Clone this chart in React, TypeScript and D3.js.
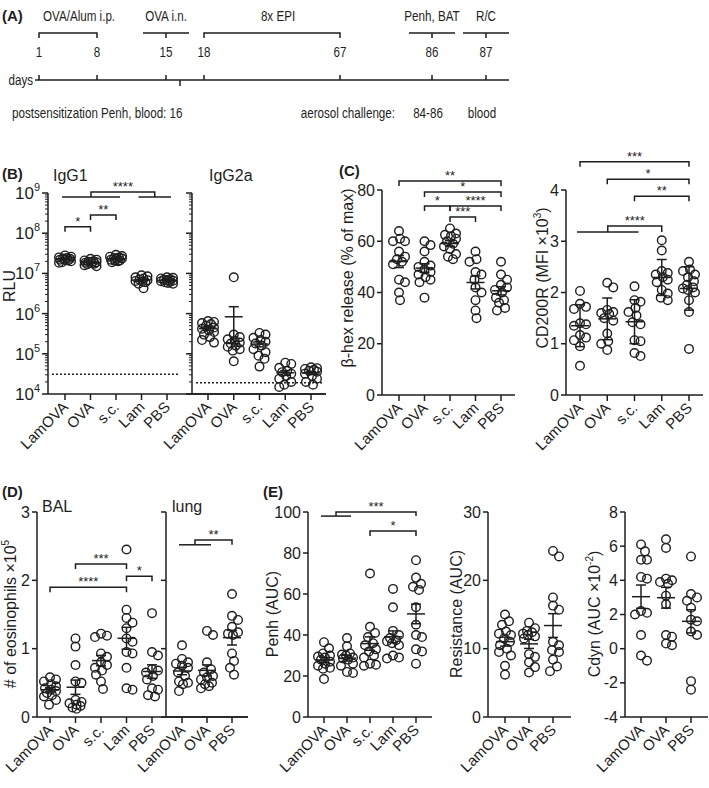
import React from "react";
import * as d3 from "d3";

const FONT = "'Liberation Sans', Arial, Helvetica, sans-serif";
const INK = "#1e1e1e";

// ---------- Panel A: timeline ----------
const timelineDays = [1, 8, 15, 16, 18, 67, 86, 87];
const dayTicks = [1, 8, 15, 18, 67, 86, 87];
const sampleDay = 16;
const phaseLabels = ["OVA/Alum i.p.", "OVA i.n.", "8x EPI", "Penh, BAT", "R/C"];
const phaseFrom = [1, 15, 18, 86, 87];
const phaseTo = [8, 15, 67, 86, 87];

// ---------- categories ----------
const cats5 = ["LamOVA", "OVA", "s.c.", "Lam", "PBS"];
const cats3 = ["LamOVA", "OVA", "PBS"];

// ---------- B: antibodies (RLU) ----------
const igg1 = [
  [2.8e7, 2.6e7, 2.5e7, 2.4e7, 2.35e7, 2.3e7, 2.2e7, 2.15e7, 2.1e7, 2.0e7, 1.9e7, 1.85e7],
  [2.3e7, 2.2e7, 2.1e7, 2.0e7, 1.95e7, 1.9e7, 1.85e7, 1.8e7, 1.75e7, 1.7e7, 1.6e7, 1.5e7],
  [2.9e7, 2.7e7, 2.6e7, 2.5e7, 2.4e7, 2.35e7, 2.3e7, 2.2e7, 2.1e7, 2.05e7, 2.0e7, 1.9e7],
  [9.0e6, 8.5e6, 8.0e6, 7.5e6, 7.0e6, 6.8e6, 6.5e6, 6.2e6, 6.0e6, 5.5e6, 4.3e6],
  [8.0e6, 7.8e6, 7.5e6, 7.2e6, 7.0e6, 6.8e6, 6.6e6, 6.4e6, 6.2e6, 6.0e6, 5.8e6, 5.5e6],
];
const igg2a = [
  [6.5e5, 6.2e5, 5.8e5, 5.5e5, 5.0e5, 4.5e5, 4.2e5, 3.8e5, 3.5e5, 3.0e5, 2.6e5, 2.2e5, 1.9e5],
  [8e6, 3.0e5, 2.6e5, 2.3e5, 2.1e5, 1.9e5, 1.8e5, 1.6e5, 1.5e5, 1.3e5, 1.2e5, 6.5e4],
  [3.3e5, 3.0e5, 2.5e5, 2.2e5, 2.0e5, 1.8e5, 1.6e5, 1.3e5, 1.1e5, 9e4, 7.5e4, 4.8e4],
  [6.0e4, 5.6e4, 4.5e4, 3.8e4, 3.5e4, 3.2e4, 2.8e4, 2.4e4, 2.0e4, 1.7e4, 1.5e4],
  [4.6e4, 4.4e4, 4.2e4, 4.0e4, 3.8e4, 3.6e4, 3.2e4, 2.8e4, 2.4e4, 2.0e4, 1.7e4],
];
const igg1Cutoff = 3.1e4;
const igg2aCutoff = 1.9e4;
const logTicks = [1e4, 1e5, 1e6, 1e7, 1e8, 1e9];

// ---------- C ----------
const betaHex = [
  [64, 61, 60, 60, 56, 54, 53, 52, 51, 45, 44, 40, 37],
  [60, 58.5, 56, 52, 50.5, 50, 49, 48, 47, 46, 45, 44, 38],
  [65, 63, 62.5, 62, 61, 60, 59, 58, 57, 55, 54, 53],
  [56, 53, 52, 48, 47, 45, 42, 40, 37, 33, 30],
  [52, 47, 45, 43, 42, 41, 40, 38, 37, 36, 34, 33],
];
const cd200r = [
  [2.03, 1.78, 1.72, 1.68, 1.4, 1.38, 1.35, 1.17, 1.12, 1.07, 0.95, 0.57],
  [2.19, 2.1, 1.66, 1.62, 1.6, 1.58, 1.5, 1.45, 1.2, 1.05, 1.0, 0.88],
  [2.12, 1.85, 1.82, 1.7, 1.62, 1.55, 1.42, 1.38, 1.07, 1.05, 0.82, 0.76],
  [3.02, 2.82, 2.42, 2.38, 2.35, 2.3, 2.25, 2.2, 2.05, 1.98, 1.9, 1.85],
  [2.6, 2.45, 2.42, 2.35, 2.3, 2.22, 2.15, 2.1, 2.08, 2.05, 2.0, 1.85, 1.62, 0.9],
];

// ---------- D ----------
const eosBAL = [
  [0.58, 0.55, 0.52, 0.48, 0.45, 0.42, 0.4, 0.38, 0.35, 0.32, 0.3, 0.25, 0.18],
  [1.15, 1.03, 0.76, 0.52, 0.5, 0.25, 0.22, 0.2, 0.18, 0.16, 0.14, 0.12],
  [1.22, 1.19, 1.17, 0.93, 0.88, 0.8, 0.76, 0.72, 0.68, 0.62, 0.52, 0.41],
  [2.45, 1.57, 1.45, 1.38, 1.3, 1.15, 1.1, 0.95, 0.93, 0.72, 0.42, 0.4],
  [1.52, 0.95, 0.9, 0.7, 0.68, 0.65, 0.6, 0.55, 0.42, 0.4, 0.32, 0.3],
];
const eosLung = [
  [1.05, 0.85, 0.8, 0.78, 0.75, 0.72, 0.65, 0.6, 0.52, 0.5, 0.48, 0.38],
  [1.26, 1.2, 0.8, 0.7, 0.65, 0.6, 0.58, 0.55, 0.5, 0.48, 0.45, 0.42],
  [1.8, 1.48, 1.42, 1.32, 1.24, 1.22, 1.2, 0.93, 0.82, 0.72, 0.62],
];

// ---------- E ----------
const penh = [
  [36.5, 33.5, 31, 30, 29.5, 29, 28, 27, 26, 25, 24, 23.5, 18.5],
  [38.5, 34.5, 31, 30.5, 30, 29, 28.5, 28, 26, 25, 22, 21.5],
  [70, 44, 41, 39, 36, 35, 33, 32, 30, 29, 26, 25.5, 25],
  [62.5, 53.5, 42, 40, 38.5, 37.5, 37, 36, 35, 30, 29, 28.5],
  [76.5, 68, 65, 63.5, 62, 53.5, 45, 40, 39, 33, 32, 26],
];
const resistance = [
  [15, 14, 13.5, 12.5, 12.2, 12, 11.5, 11, 10.5, 10, 9.5, 9, 7.5, 6.2],
  [13.8, 13, 12.6, 12.4, 12.2, 12, 11.8, 11.5, 9.2, 8.8, 8, 7.3, 6.5],
  [24.3, 23.5, 17.5, 16.3, 15.7, 11, 10.5, 9.8, 9.5, 8.4, 7.4, 6.7],
];
const cdyn = [
  [6.1, 5.7, 5.2, 5.2, 4.2, 4.1, 2.2, 2.1, 2.0, 0.8, -0.4, -0.7],
  [6.4, 5.9, 4.1, 4.0, 3.9, 3.8, 3.1, 2.6, 0.8, 0.7, 0.3, 0.2],
  [5.4, 3.2, 3.0, 2.8, 2.4, 1.7, 1.6, 1.0, 0.8, -1.9, -2.4],
];

// ---------- significance (levels in data units) ----------
type Sig = { a: number; b: number; level: number; label: string };
type GSig = { a: number[]; b: number[]; line: number; top: number; label: string };
const sigIgG1: Sig[] = [
  { a: 0, b: 1, level: 1.45e8, label: "*" },
  { a: 1, b: 2, level: 2.85e8, label: "**" },
];
const gsigIgG1: GSig[] = [{ a: [0, 1, 2], b: [3, 4], line: 7.9e8, top: 1.06e9, label: "****" }];
const sigBeta: Sig[] = [
  { a: 0, b: 4, level: 83.5, label: "**" },
  { a: 1, b: 4, level: 79.2, label: "*" },
  { a: 1, b: 2, level: 73.8, label: "*" },
  { a: 2, b: 4, level: 73.8, label: "****" },
  { a: 2, b: 3, level: 69.5, label: "***" },
];
const sigCD: Sig[] = [
  { a: 0, b: 4, level: 4.55, label: "***" },
  { a: 1, b: 4, level: 4.21, label: "*" },
  { a: 2, b: 4, level: 3.88, label: "**" },
];
const gsigCD: GSig[] = [{ a: [0, 1, 2], b: [3], line: 3.18, top: 3.3, label: "****" }];
const sigBAL: Sig[] = [
  { a: 1, b: 3, level: 2.24, label: "***" },
  { a: 3, b: 4, level: 2.06, label: "*" },
  { a: 0, b: 3, level: 1.9, label: "****" },
];
const gsigLung: GSig[] = [{ a: [0, 1], b: [2], line: 2.52, top: 2.59, label: "**" }];
const sigPenh: Sig[] = [{ a: 2, b: 4, level: 90.7, label: "*" }];
const gsigPenh: GSig[] = [{ a: [0, 1], b: [4], line: 98, top: 100, label: "***" }];

// ---------- helpers ----------
const R = 4.3;
const SW = 1.5;

function swarm(ys: number[], r: number, maxOff: number): number[] {
  const order = ys.map((_, i) => i).sort((a, b) => ys[a] - ys[b]);
  const placed: [number, number][] = [];
  const out: number[] = new Array(ys.length).fill(0);
  const cands: number[] = [0];
  for (let k = 1; k <= maxOff; k++) cands.push(k, -k);
  const need = 2 * r * 0.9;
  for (const i of order) {
    const yy = ys[i];
    let best = 0;
    let bestD = -1;
    for (const c of cands) {
      let md = Infinity;
      for (const [px, py] of placed) {
        const d = Math.hypot(px - c, py - yy);
        if (d < md) md = d;
      }
      if (md >= need) {
        best = c;
        break;
      }
      if (md > bestD) {
        bestD = md;
        best = c;
      }
    }
    placed.push([best, yy]);
    out[i] = best;
  }
  return out;
}

function Scatter({ groups, cats, x, y, err }: any) {
  return (
    <g>
      {groups.map((vals: number[], gi: number) => {
        const cx = x(cats[gi]);
        const ys = vals.map((v) => y(v));
        const offs = swarm(ys, R, 6);
        const m = d3.mean(vals)!;
        const sd = d3.deviation(vals)!;
        const e = err === "sd" ? sd : sd / Math.sqrt(vals.length);
        const yt = y(m + e);
        const yb = y(Math.max(m - e, 1e-9));
        const ym = y(m);
        return (
          <g key={gi}>
            {vals.map((v, i) => (
              <circle key={i} cx={cx + offs[i]} cy={ys[i]} r={R} fill="none" stroke={INK} strokeWidth={1.4} />
            ))}
            <line x1={cx} x2={cx} y1={yt} y2={yb} stroke={INK} strokeWidth={SW} />
            <line x1={cx - 5} x2={cx + 5} y1={yt} y2={yt} stroke={INK} strokeWidth={SW} />
            <line x1={cx - 5} x2={cx + 5} y1={yb} y2={yb} stroke={INK} strokeWidth={SW} />
            <line x1={cx - 9} x2={cx + 9} y1={ym} y2={ym} stroke={INK} strokeWidth={SW} />
          </g>
        );
      })}
    </g>
  );
}

function Brackets({ sigs, cats, x, y }: any) {
  return (
    <g>
      {sigs.map((s: Sig, i: number) => {
        const x1 = x(cats[s.a]);
        const x2 = x(cats[s.b]);
        const yy = y(s.level);
        return (
          <g key={i}>
            <path d={`M${x1},${yy + 5}V${yy}H${x2}V${yy + 5}`} fill="none" stroke={INK} strokeWidth={SW} />
            <text x={(x1 + x2) / 2} y={yy - 1} textAnchor="middle" fontSize={13}>
              {s.label}
            </text>
          </g>
        );
      })}
    </g>
  );
}

function GroupBrackets({ sigs, cats, x, y }: any) {
  return (
    <g>
      {sigs.map((s: GSig, i: number) => {
        const yl = y(s.line);
        const yt = y(s.top);
        const end = (g: number[]) => {
          if (g.length === 1) return { mid: x(cats[g[0]]), line: null as any };
          const l = x(cats[g[0]]) - 3;
          const r = x(cats[g[g.length - 1]]) + 4;
          return { mid: (l + r) / 2, line: [l, r] };
        };
        const A = end(s.a);
        const B = end(s.b);
        return (
          <g key={i}>
            {A.line && <line x1={A.line[0]} x2={A.line[1]} y1={yl} y2={yl} stroke={INK} strokeWidth={SW} />}
            {B.line && <line x1={B.line[0]} x2={B.line[1]} y1={yl} y2={yl} stroke={INK} strokeWidth={SW} />}
            <path d={`M${A.mid},${yl}V${yt}H${B.mid}V${yl}`} fill="none" stroke={INK} strokeWidth={SW} />
            <text x={(A.mid + B.mid) / 2} y={yt - 1} textAnchor="middle" fontSize={13}>
              {s.label}
            </text>
          </g>
        );
      })}
    </g>
  );
}

function YAxisLin({ x0, y, ticks, labels = true }: any) {
  const [d0, d1] = y.domain();
  return (
    <g>
      <line x1={x0} x2={x0} y1={y(d0)} y2={y(d1)} stroke={INK} strokeWidth={SW} />
      {ticks.map((t: number) => (
        <g key={t}>
          <line x1={x0 - 5} x2={x0} y1={y(t)} y2={y(t)} stroke={INK} strokeWidth={SW} />
          {labels && (
            <text x={x0 - 7} y={y(t) + 5.5} textAnchor="end" fontSize={16}>
              {t}
            </text>
          )}
        </g>
      ))}
    </g>
  );
}

function YAxisLog({ x0, y, labels = true }: any) {
  const minors: number[] = [];
  for (let k = 4; k < 9; k++) for (let m = 2; m <= 9; m++) minors.push(m * Math.pow(10, k));
  return (
    <g>
      <line x1={x0} x2={x0} y1={y(1e4)} y2={y(1e9)} stroke={INK} strokeWidth={SW} />
      {minors.map((t) => (
        <line key={t} x1={x0 - 3} x2={x0} y1={y(t)} y2={y(t)} stroke={INK} strokeWidth={1} />
      ))}
      {logTicks.map((t) => (
        <g key={t}>
          <line x1={x0 - 6} x2={x0} y1={y(t)} y2={y(t)} stroke={INK} strokeWidth={SW} />
          {labels && (
            <text x={x0 - 8} y={y(t) + 6} textAnchor="end" fontSize={17}>
              10
              <tspan dy={-8} fontSize={11}>
                {Math.round(Math.log10(t))}
              </tspan>
            </text>
          )}
        </g>
      ))}
    </g>
  );
}

function XAxis({ x0, x1, y0, cats, x }: any) {
  return (
    <g>
      <line x1={x0} x2={x1} y1={y0} y2={y0} stroke={INK} strokeWidth={SW} />
      {cats.map((c: string) => (
        <g key={c}>
          <line x1={x(c)} x2={x(c)} y1={y0} y2={y0 + 6} stroke={INK} strokeWidth={SW} />
          <text transform={`translate(${x(c) + 4},${y0 + 14}) rotate(-45)`} textAnchor="end" fontSize={15}>
            {c}
          </text>
        </g>
      ))}
    </g>
  );
}

function VLabel({ x, y, children }: any) {
  return (
    <text transform={`translate(${x},${y}) rotate(-90)`} textAnchor="middle" fontSize={16}>
      {children}
    </text>
  );
}

// condensed text used in the timeline panel
function NText({ x, y, anchor = "start", children }: any) {
  return (
    <text transform={`translate(${x},${y}) scale(0.75,1)`} textAnchor={anchor} fontSize={15.5}>
      {children}
    </text>
  );
}

export default function App() {
  // ---- A ----
  const tx = d3.scaleLinear().domain(timelineDays).range([39, 97, 166, 180, 204, 340, 432, 486]);
  const barY = 33;
  const axY = 80;

  // ---- B ----
  const yB = d3.scaleLog().domain([1e4, 1e9]).range([394, 193]);
  const xB1 = d3.scalePoint<string>().domain(cats5).range([65, 167]);
  const xB2 = d3.scalePoint<string>().domain(cats5).range([208, 311]);

  // ---- C ----
  const yC1 = d3.scaleLinear().domain([0, 80]).range([395, 190]);
  const xC1 = d3.scalePoint<string>().domain(cats5).range([399, 501]);
  const yC2 = d3.scaleLinear().domain([0, 4]).range([395, 190]);
  const xC2 = d3.scalePoint<string>().domain(cats5).range([580, 689]);

  // ---- D ----
  const yD = d3.scaleLinear().domain([0, 3]).range([717, 512]);
  const xD1 = d3.scalePoint<string>().domain(cats5).range([50, 152]);
  const xD2 = d3.scalePoint<string>().domain(cats3).range([182, 232]);

  // ---- E ----
  const yE1 = d3.scaleLinear().domain([0, 100]).range([717, 512]);
  const xE1 = d3.scalePoint<string>().domain(cats5).range([324, 416]);
  const yE2 = d3.scaleLinear().domain([0, 30]).range([717, 512]);
  const xE2 = d3.scalePoint<string>().domain(cats3).range([505, 553]);
  const yE3 = d3.scaleLinear().domain([-4, 8]).range([717, 512]);
  const xE3 = d3.scalePoint<string>().domain(cats3).range([641, 691]);

  return (
    <svg
      width={709}
      height={788}
      style={{ position: "absolute", left: 0, top: 0, background: "#fff" }}
      fontFamily={FONT}
      fill={INK}
    >
      <rect width={709} height={788} fill="#fff" />
      {/* ================= A ================= */}
      <text x={2} y={21} fontSize={15} fontWeight="bold">(A)</text>
      {phaseLabels.map((lab, i) => {
        const a = tx(phaseFrom[i]);
        const b = tx(phaseTo[i]);
        const single = phaseFrom[i] === phaseTo[i];
        const cx = (a + b) / 2;
        return (
          <g key={lab}>
            {single ? (
              <path d={`M${cx - 23},${barY}H${cx + 23}M${cx},${barY}V${barY + 5}`} stroke={INK} strokeWidth={SW} fill="none" />
            ) : (
              <path d={`M${a},${barY + 5}V${barY}H${b}V${barY + 5}`} stroke={INK} strokeWidth={SW} fill="none" />
            )}
            <NText x={i === 0 ? a + 4 : cx + (i === 2 ? 6 : 0)} y={21} anchor={i === 0 ? "start" : "middle"}>
              {lab}
            </NText>
          </g>
        );
      })}
      {dayTicks.map((d) => (
        <g key={d}>
          <NText x={tx(d)} y={57} anchor="middle">{d}</NText>
          <line x1={tx(d)} x2={tx(d)} y1={axY - 5} y2={axY} stroke={INK} strokeWidth={SW} />
        </g>
      ))}
      <line x1={tx(sampleDay)} x2={tx(sampleDay)} y1={axY} y2={axY + 6} stroke={INK} strokeWidth={SW} />
      <line x1={35} x2={509} y1={axY} y2={axY} stroke={INK} strokeWidth={SW} />
      <NText x={33} y={axY + 5} anchor="end">days</NText>
      <NText x={12} y={118}>postsensitization Penh, blood: {sampleDay}</NText>
      <NText x={tx(86) - 37} y={118} anchor="end">aerosol challenge:</NText>
      <NText x={tx(86) - 4} y={118} anchor="middle">84-86</NText>
      <NText x={tx(87) - 4} y={118} anchor="middle">blood</NText>

      {/* ================= B ================= */}
      <text x={2} y={179} fontSize={15} fontWeight="bold">(B)</text>
      <text x={53} y={181} fontSize={16}>IgG1</text>
      <text x={209} y={181} fontSize={16}>IgG2a</text>
      <VLabel x={15} y={286}>RLU</VLabel>
      <YAxisLog x0={48} y={yB} />
      <YAxisLog x0={192} y={yB} labels={false} />
      <XAxis x0={48} x1={326} y0={394} cats={cats5} x={xB1} />
      <XAxis x0={192} x1={326} y0={394} cats={cats5} x={xB2} />
      <line x1={52} x2={178} y1={yB(igg1Cutoff)} y2={yB(igg1Cutoff)} stroke={INK} strokeWidth={1.5} strokeDasharray="2,2" />
      <line x1={196} x2={323} y1={yB(igg2aCutoff)} y2={yB(igg2aCutoff)} stroke={INK} strokeWidth={1.5} strokeDasharray="2,2" />
      <Scatter groups={igg1} cats={cats5} x={xB1} y={yB} err="sem" />
      <Scatter groups={igg2a} cats={cats5} x={xB2} y={yB} err="sem" />
      <Brackets sigs={sigIgG1} cats={cats5} x={xB1} y={yB} />
      <GroupBrackets sigs={gsigIgG1} cats={cats5} x={xB1} y={yB} />

      {/* ================= C ================= */}
      <text x={339} y={176} fontSize={15} fontWeight="bold">(C)</text>
      <VLabel x={353} y={278}>β-hex release (% of max)</VLabel>
      <YAxisLin x0={382} y={yC1} ticks={[0, 20, 40, 60, 80]} />
      <XAxis x0={382} x1={515} y0={395} cats={cats5} x={xC1} />
      <Scatter groups={betaHex} cats={cats5} x={xC1} y={yC1} err="sem" />
      <Brackets sigs={sigBeta} cats={cats5} x={xC1} y={yC1} />

      <VLabel x={548} y={278}>
        CD200R (MFI ×10
        <tspan dy={-7} fontSize={10}>3</tspan>
        <tspan dy={7}>)</tspan>
      </VLabel>
      <YAxisLin x0={566} y={yC2} ticks={[0, 1, 2, 3, 4]} />
      <XAxis x0={566} x1={703} y0={395} cats={cats5} x={xC2} />
      <Scatter groups={cd200r} cats={cats5} x={xC2} y={yC2} err="sd" />
      <Brackets sigs={sigCD} cats={cats5} x={xC2} y={yC2} />
      <GroupBrackets sigs={gsigCD} cats={cats5} x={xC2} y={yC2} />

      {/* ================= D ================= */}
      <text x={2} y={497} fontSize={15} fontWeight="bold">(D)</text>
      <text x={42} y={512} fontSize={16}>BAL</text>
      <text x={172} y={512} fontSize={16}>lung</text>
      <VLabel x={16} y={614}>
        # of eosinophils ×10
        <tspan dy={-7} fontSize={10}>5</tspan>
      </VLabel>
      <YAxisLin x0={37} y={yD} ticks={[0, 1, 2, 3]} />
      <YAxisLin x0={166} y={yD} ticks={[0, 1, 2, 3]} labels={false} />
      <XAxis x0={37} x1={248} y0={717} cats={cats5} x={xD1} />
      <XAxis x0={166} x1={248} y0={717} cats={cats3} x={xD2} />
      <Scatter groups={eosBAL} cats={cats5} x={xD1} y={yD} err="sem" />
      <Scatter groups={eosLung} cats={cats3} x={xD2} y={yD} err="sem" />
      <Brackets sigs={sigBAL} cats={cats5} x={xD1} y={yD} />
      <GroupBrackets sigs={gsigLung} cats={cats3} x={xD2} y={yD} />

      {/* ================= E ================= */}
      <text x={263} y={497} fontSize={15} fontWeight="bold">(E)</text>
      <VLabel x={278} y={614}>Penh (AUC)</VLabel>
      <YAxisLin x0={308} y={yE1} ticks={[0, 20, 40, 60, 80, 100]} />
      <XAxis x0={308} x1={432} y0={717} cats={cats5} x={xE1} />
      <Scatter groups={penh} cats={cats5} x={xE1} y={yE1} err="sem" />
      <Brackets sigs={sigPenh} cats={cats5} x={xE1} y={yE1} />
      <GroupBrackets sigs={gsigPenh} cats={cats5} x={xE1} y={yE1} />

      <VLabel x={462} y={614}>Resistance (AUC)</VLabel>
      <YAxisLin x0={488} y={yE2} ticks={[0, 10, 20, 30]} />
      <XAxis x0={488} x1={571} y0={717} cats={cats3} x={xE2} />
      <Scatter groups={resistance} cats={cats3} x={xE2} y={yE2} err="sem" />

      <VLabel x={600} y={614}>
        Cdyn (AUC ×10
        <tspan dy={-7} fontSize={10}>-2</tspan>
        <tspan dy={7}>)</tspan>
      </VLabel>
      <YAxisLin x0={625} y={yE3} ticks={[-4, -2, 0, 2, 4, 6, 8]} />
      <XAxis x0={625} x1={708} y0={717} cats={cats3} x={xE3} />
      <Scatter groups={cdyn} cats={cats3} x={xE3} y={yE3} err="sem" />
    </svg>
  );
}
